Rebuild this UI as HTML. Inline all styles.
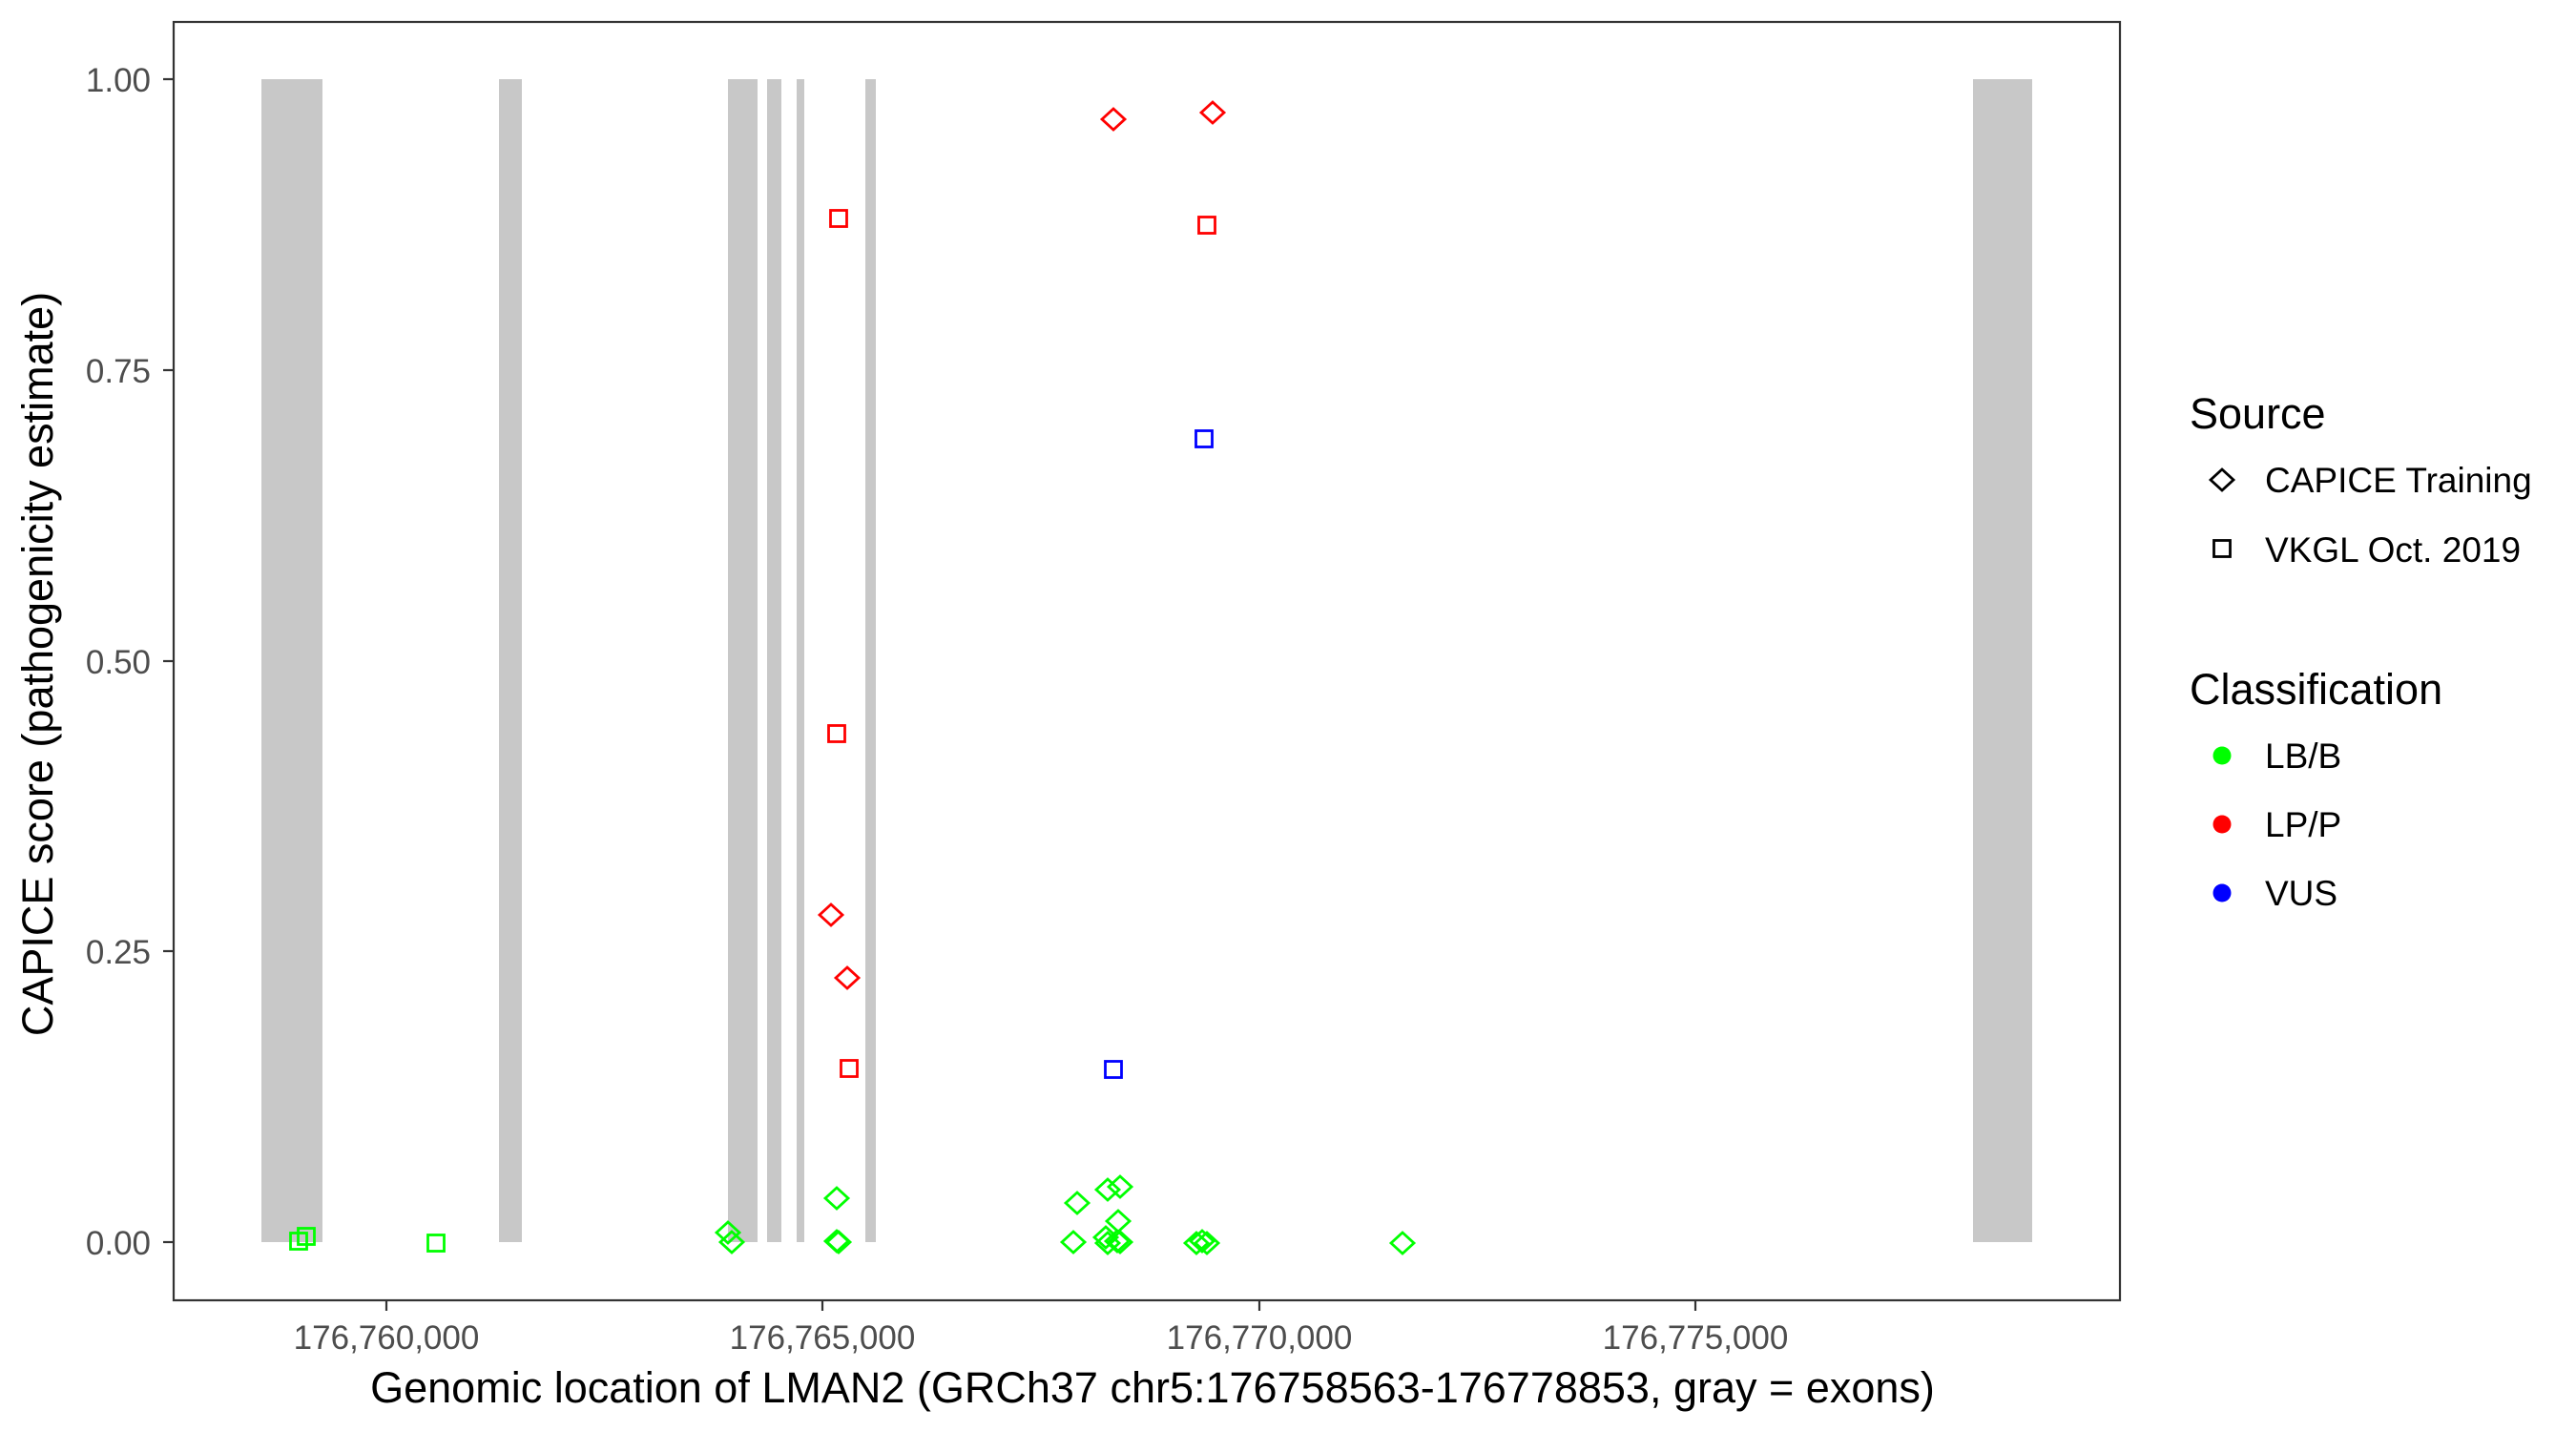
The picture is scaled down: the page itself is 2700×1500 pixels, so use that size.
<!DOCTYPE html>
<html><head><meta charset="utf-8"><style>html,body{margin:0;padding:0;background:#fff}svg{display:block}</style></head>
<body>
<svg width="2700" height="1500" viewBox="0 0 2700 1500" xmlns="http://www.w3.org/2000/svg" font-family="Liberation Sans, Arial, sans-serif">
<rect width="2700" height="1500" fill="#fff"/>
<g fill="#c8c8c8">
<rect x="274" y="83" width="64" height="1219"/>
<rect x="523" y="83" width="24" height="1219"/>
<rect x="763" y="83" width="31" height="1219"/>
<rect x="804" y="83" width="15" height="1219"/>
<rect x="835" y="83" width="8" height="1219"/>
<rect x="907" y="83" width="11" height="1219"/>
<rect x="2068" y="83" width="62" height="1219"/>
</g>
<rect x="182" y="23" width="2040" height="1340" fill="none" stroke="#333" stroke-width="2.2"/>
<g stroke="#333" stroke-width="2.2">
<line x1="171" y1="83" x2="182" y2="83"/><line x1="171" y1="388" x2="182" y2="388"/>
<line x1="171" y1="693" x2="182" y2="693"/><line x1="171" y1="997" x2="182" y2="997"/>
<line x1="171" y1="1302" x2="182" y2="1302"/>
<line x1="405" y1="1363" x2="405" y2="1374"/><line x1="862" y1="1363" x2="862" y2="1374"/>
<line x1="1320" y1="1363" x2="1320" y2="1374"/><line x1="1777" y1="1363" x2="1777" y2="1374"/>
</g>
<g fill="#4d4d4d" font-size="35" text-anchor="end">
<text x="158" y="96">1.00</text><text x="158" y="401">0.75</text><text x="158" y="706">0.50</text>
<text x="158" y="1010">0.25</text><text x="158" y="1315">0.00</text>
</g>
<g fill="#4d4d4d" font-size="35" text-anchor="middle">
<text x="405" y="1414">176,760,000</text><text x="862" y="1414">176,765,000</text>
<text x="1320" y="1414">176,770,000</text><text x="1777" y="1414">176,775,000</text>
</g>
<text x="1208" y="1470" font-size="45" text-anchor="middle" fill="#000">Genomic location of LMAN2 (GRCh37 chr5:176758563-176778853, gray = exons)</text>
<text transform="translate(55,696) rotate(-90)" font-size="45" text-anchor="middle" fill="#000">CAPICE score (pathogenicity estimate)</text>
<defs>
<path id="d" d="M-12,0 L0,-11 L12,0 L0,11 Z" fill="none" stroke-width="2.8"/>
<rect id="s" x="-8.5" y="-8.5" width="17" height="17" fill="none" stroke-width="2.8"/>
</defs>
<g stroke="#00ff00">
<use href="#s" x="313" y="1301"/><use href="#s" x="321" y="1296"/><use href="#s" x="457" y="1303"/>
<use href="#d" x="763" y="1292"/><use href="#d" x="767" y="1302"/>
<use href="#d" x="877" y="1256"/><use href="#d" x="879" y="1302"/><use href="#d" x="877" y="1301"/>
<use href="#d" x="1129" y="1261"/><use href="#d" x="1125" y="1302"/><use href="#d" x="1161" y="1247"/>
<use href="#d" x="1174" y="1244"/><use href="#d" x="1172" y="1280"/><use href="#d" x="1159" y="1297"/>
<use href="#d" x="1161" y="1303"/><use href="#d" x="1171" y="1301"/><use href="#d" x="1174" y="1302"/>
<use href="#d" x="1254" y="1303"/><use href="#d" x="1260" y="1301"/><use href="#d" x="1265" y="1303"/>
<use href="#d" x="1470" y="1303"/>
</g>
<g stroke="#ff0000">
<use href="#s" x="879" y="229"/><use href="#s" x="877" y="769"/><use href="#s" x="890" y="1120"/>
<use href="#s" x="1265" y="236"/>
<use href="#d" x="871" y="959"/><use href="#d" x="888" y="1025"/><use href="#d" x="1167" y="125"/><use href="#d" x="1271" y="118"/>
</g>
<g stroke="#0000ff">
<use href="#s" x="1262" y="460"/><use href="#s" x="1167" y="1121"/>
</g>
<text x="2295" y="449" font-size="45" fill="#000">Source</text>
<use href="#d" x="2329" y="503" stroke="#000"/>
<use href="#s" x="2329" y="575" stroke="#000"/>
<g font-size="37" fill="#000">
<text x="2374" y="516">CAPICE Training</text>
<text x="2374" y="589">VKGL Oct. 2019</text>
<text x="2374" y="805">LB/B</text>
<text x="2374" y="877">LP/P</text>
<text x="2374" y="949">VUS</text>
</g>
<text x="2295" y="738" font-size="45" fill="#000">Classification</text>
<circle cx="2329" cy="792" r="9.5" fill="#00ff00"/>
<circle cx="2329" cy="864" r="9.5" fill="#ff0000"/>
<circle cx="2329" cy="936" r="9.5" fill="#0000ff"/>
</svg>
</body></html>
